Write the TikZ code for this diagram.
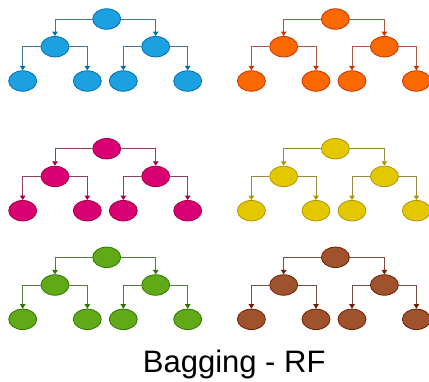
\documentclass[tikz,border=0pt]{standalone}
\usepackage{fontspec}
\setmainfont{Liberation Sans}
\usetikzlibrary{arrows.meta,shapes.geometric}

% fill and outline colours of the six trees
\definecolor{bluefill}{HTML}{1BA1E2}   \definecolor{blueline}{HTML}{006EAF}
\definecolor{orangefill}{HTML}{FA6800} \definecolor{orangeline}{HTML}{C73500}
\definecolor{pinkfill}{HTML}{D80073}   \definecolor{pinkline}{HTML}{A50040}
\definecolor{yellowfill}{HTML}{E3C800} \definecolor{yellowline}{HTML}{B09500}
\definecolor{greenfill}{HTML}{60A917}  \definecolor{greenline}{HTML}{2D7600}
\definecolor{brownfill}{HTML}{A0522D}  \definecolor{brownline}{HTML}{6D1F00}

\tikzset{
  treenode/.style={ellipse, minimum width=28pt, minimum height=20.5pt,
    inner sep=0pt, line width=0.8pt},
  branch/.style={line width=0.9pt},
}

% one binary tree of depth two: #1 name prefix, #2/#3 offset, #4 colour name
\newcommand\bintree[4]{%
  \begin{scope}[shift={(#2,#3)},
      every node/.style={treenode, fill=#4fill, draw=#4line}]
    \node (#1r)  at (106.7,19)   {};
    \node (#1a)  at (55,46.7)    {};
    \node (#1b)  at (155.7,46.7) {};
    \node (#1aa) at (22.7,81)    {};
    \node (#1ab) at (87.3,81)    {};
    \node (#1ba) at (123.3,81)   {};
    \node (#1bb) at (187.7,81)   {};
  \end{scope}
  \begin{scope}[branch, draw=#4line!50!gray,
      arrows={-{Triangle[length=4.5pt,width=5.5pt,fill=#4line,color=#4line]}}]
    \draw (#1r.west) -| (#1a.north);
    \draw (#1r.east) -| (#1b.north);
    \draw (#1a.west) -| (#1aa.north);
    \draw (#1a.east) -| (#1ab.north);
    \draw (#1b.west) -| (#1ba.north);
    \draw (#1b.east) -| (#1bb.north);
  \end{scope}}

\begin{document}
\begin{tikzpicture}[x=1pt,y=-1pt]
  \useasboundingbox (0,0) rectangle (429,381);
  \begin{scope}
    \clip (0,0) rectangle (429,381);
    \bintree{t1}{0}{0}{blue}
    \bintree{t2}{228.7}{0}{orange}
    \bintree{t3}{0}{129.7}{pink}
    \bintree{t4}{228.7}{129.7}{yellow}
    \bintree{t5}{0}{238.3}{green}
    \bintree{t6}{228.7}{238.3}{brown}
  \end{scope}
  \node[anchor=base, font=\fontsize{31}{37}\selectfont, inner sep=0pt]
    (caption) at (234.2,372.3) {Bagging - RF};
\end{tikzpicture}
\end{document}
